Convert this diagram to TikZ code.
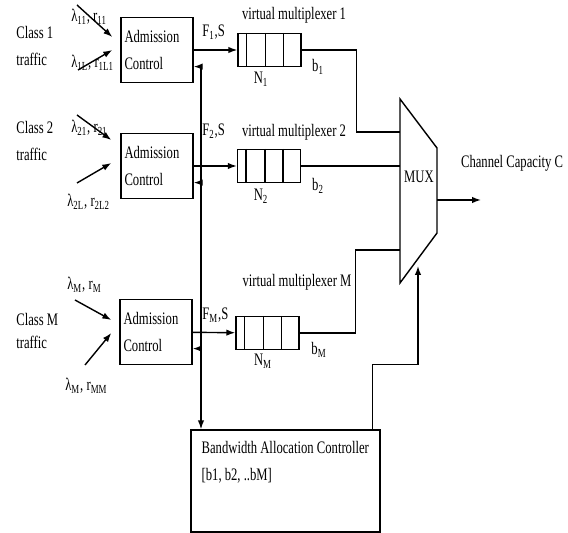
\documentclass[tikz,border=0pt]{standalone}
\usepackage{fontspec}
\setmainfont{Liberation Serif}[FakeStretch=0.72]
\usetikzlibrary{arrows.meta, positioning, calc}

\begin{document}
\begin{tikzpicture}[
  x=0.02cm, y=-0.02cm,
  font=\fontsize{10}{15}\selectfont,
  acbox/.style={rectangle, draw, line width=0.8pt,
    minimum width=1.44cm, minimum height=1.3cm, text width=1.3cm,
    inner sep=2pt, align=left},
  queue/.style={rectangle, draw, line width=0.8pt,
    minimum width=1.26cm, minimum height=0.66cm, inner sep=0pt},
  ctrlbox/.style={rectangle, draw, line width=0.8pt,
    minimum width=3.78cm, minimum height=2.04cm},
  lbl/.style={inner sep=0pt},
  wire/.style={line width=0.8pt},
  arr/.style={-{Latex[length=1.8mm, width=1.3mm]}, line width=0.8pt},
]
  \useasboundingbox (0,0) rectangle (568,533);

  % Admission control and queues
  \node[acbox] (ac1) at (157,50) {Admission\\Control};
  \node[acbox] (ac2) at (157,166) {Admission\\Control};
  \node[acbox] (acM) at (156,332) {Admission\\Control};

  \node[queue] (q1) at (269.5,50) {};
  \node[queue] (q2) at (269,166) {};
  \node[queue] (qM) at (267.5,333) {};
  \foreach \q in {q1,q2,qM}
    \foreach \d in {9,28,46}
      \draw[wire] ($(\q.north west)+(\d,0)$) -- ($(\q.south west)+(\d,0)$);

  \node[lbl] (vm1) at (294,15) {virtual multiplexer 1};
  \node[lbl] (vm2) at (294,132) {virtual multiplexer 2};
  \node[lbl] (vmM) at (297,282) {virtual multiplexer M};

  \node[lbl] (n1) at (261,79) {N\textsubscript{1}};
  \node[lbl] (n2) at (261,196) {N\textsubscript{2}};
  \node[lbl] (nM) at (263,361) {N\textsubscript{M}};
  \node[lbl] (b1) at (318,67) {b\textsubscript{1}};
  \node[lbl] (b2) at (318,186) {b\textsubscript{2}};
  \node[lbl] (bM) at (319,350) {b\textsubscript{M}};

  \node[lbl, anchor=west] (fs1) at (202,32) {F\textsubscript{1},S};
  \node[lbl, anchor=west] (fs2) at (202,131) {F\textsubscript{2},S};
  \node[lbl, anchor=west] (fsM) at (202,315) {F\textsubscript{M},S};

  % Traffic classes
  \node[lbl, anchor=west, align=left] (cl1) at (16,46) {Class 1\\traffic};
  \node[lbl, anchor=west, align=left] (cl2) at (16,141) {Class 2\\traffic};
  \node[lbl, anchor=west, align=left, font=\fontsize{10}{13}\selectfont] (clM) at (16,331) {Class M\\traffic};

  \node[lbl, anchor=west] (l11) at (71,17) {λ\textsubscript{11}, r\textsubscript{11}};
  \node[lbl, anchor=west] (l1L) at (71,63) {λ\textsubscript{1L}, r\textsubscript{1L1}};
  \node[lbl, anchor=west] (l21) at (71,128) {λ\textsubscript{21}, r\textsubscript{21}};
  \node[lbl, anchor=west] (l2L) at (67,202) {λ\textsubscript{2L}, r\textsubscript{2L2}};
  \node[lbl, anchor=west] (lM1) at (67,285) {λ\textsubscript{M}, r\textsubscript{M}};
  \node[lbl, anchor=west] (lMM) at (65,386) {λ\textsubscript{M}, r\textsubscript{MM}};

  \coordinate (in11) at (77,5);
  \coordinate (in1L) at (78,70);
  \coordinate (in21) at (77,115);
  \coordinate (in2L) at (77,183);
  \coordinate (inM1) at (75,300);
  \coordinate (inMM) at (85,365);
  \draw[arr] (in11) -- ($(ac1.west)+(-8,-13)$);
  \draw[arr] (in1L) -- ($(ac1.west)+(-8,0)$);
  \draw[arr] (in21) -- ($(ac2.west)+(-9,-26)$);
  \draw[arr] (in2L) -- ($(ac2.west)+(-9,-3)$);
  \draw[arr] (inM1) -- ($(acM.west)+(-8,-12)$);
  \draw[arr] (inMM) -- ($(acM.west)+(-8,1)$);

  \draw[arr] (ac1) -- (q1);
  \draw[arr] (ac2) -- (q2);
  \draw[arr] (acM) -- (qM);

  % MUX
  \draw[wire] (400,99) -- (437,148) -- (437,233) -- (400,283) -- cycle;
  \node[lbl] (mux) at (419,177) {MUX};
  \coordinate (mux1) at (400,132);
  \coordinate (mux2) at (400,166);
  \coordinate (muxM) at (400,250);
  \coordinate (muxout) at (437,200);
  \coordinate (muxsel) at (418,266);
  \coordinate (cap) at (481,200);
  \node[lbl] (captxt) at (512,163) {Channel Capacity C};

  \draw[wire] (q1.east) -- ++(55,0) |- (mux1);
  \draw[wire] (q2.east) -- (mux2);
  \draw[wire] (qM.east) -- ++(56,0) |- (muxM);
  \draw[arr] (muxout) -- (cap);

  % Bandwidth allocation controller
  \node[ctrlbox] (bac) at (285.5,481) {};
  \node[lbl, anchor=north west, align=left] (bactxt) at ($(bac.north west)+(11,12)$)
    {Bandwidth Allocation Controller\\{}[b1, b2, ..bM]};

  \coordinate (fbtop) at (201,66);
  \draw[arr] (fbtop) -- (fbtop |- bac.north);
  \foreach \a in {ac1,ac2,acM}
    \draw[arr] (fbtop |- {$(\a.south east)!0.25!(\a.north east)$}) -- ($(\a.south east)!0.25!(\a.north east)$);
  \draw[arr] ($(bac.north east)+(-8,0)$) -- ++(0,-65) -| (muxsel);
\end{tikzpicture}
\end{document}
